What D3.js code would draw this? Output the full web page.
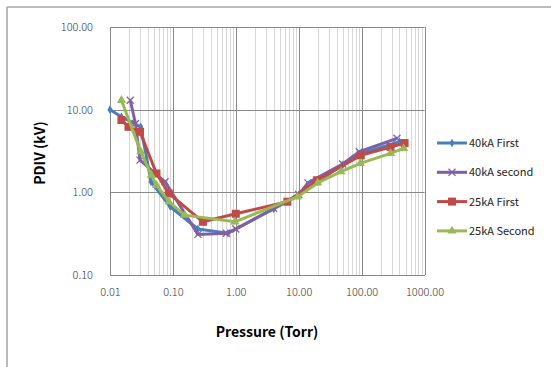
<!DOCTYPE html>
<html>
<head>
<meta charset="utf-8">
<script src="https://cdn.jsdelivr.net/npm/d3@7"></script>
<style>
  body { margin: 0; background: #fff; }
  svg { display: block; font-family: "Noto Sans CJK KR", "Noto Sans", sans-serif; }
</style>
</head>
<body>
<div id="chart"></div>
<script>
// pressure (Torr) / PDIV (kV)
var first40P  = [0.01, 0.0152, 0.0308, 0.045, 0.091, 0.25, 0.75, 4, 10, 20, 50, 100, 400];
var first40V  = [10, 8.2, 6.2, 1.34, 0.67, 0.36, 0.32, 0.63, 0.93, 1.35, 2.15, 2.95, 4.1];
var second40P = [0.021, 0.0254, 0.030, 0.075, 0.25, 0.71, 1.0, 4, 10, 14, 50, 92, 365];
var second40V = [13, 6.8, 2.45, 1.34, 0.31, 0.32, 0.36, 0.64, 0.94, 1.3, 2.2, 3.1, 4.5];
var first25P  = [0.0152, 0.0197, 0.030, 0.0548, 0.086, 0.30, 1.0, 6.6, 19.5, 97, 289, 482];
var first25V  = [7.5, 6.2, 5.4, 1.69, 0.97, 0.44, 0.55, 0.77, 1.4, 2.8, 3.54, 3.95];
var second25P = [0.0152, 0.0308, 0.0453, 0.0548, 0.086, 0.153, 0.97, 9.5, 20, 47, 95, 289, 466];
var second25V = [13, 3.1, 1.62, 1.22, 0.77, 0.53, 0.44, 0.88, 1.3, 1.78, 2.24, 2.96, 3.4];

var seriesNames  = ["40kA First", "40kA second", "25kA First", "25kA Second"];
var seriesColors = ["#4a7ebb", "#7f5fa6", "#be4b48", "#98b954"];
var seriesShapes = ["diamond", "cross", "square", "triangle"];
var xTicks = [0.01, 0.1, 1, 10, 100, 1000];
var yTicks = [0.1, 1, 10, 100];

var data = [
  d3.zip(first40P, first40V),
  d3.zip(second40P, second40V),
  d3.zip(first25P, first25V),
  d3.zip(second25P, second25V)
];

var W = 551, H = 367;
var svg = d3.select("#chart").append("svg").attr("width", W).attr("height", H);

// outer frame (only top and left visible)
svg.append("line").attr("x1", 7).attr("x2", W).attr("y1", 7).attr("y2", 7)
  .attr("stroke", "#a6a6a6").attr("stroke-width", 1.5);
svg.append("line").attr("x1", 7).attr("x2", 7).attr("y1", 7).attr("y2", H)
  .attr("stroke", "#a6a6a6").attr("stroke-width", 1.5);

var x = d3.scaleLog().domain([0.01, 1000]).range([110, 424.5]);
var y = d3.scaleLog().domain([0.1, 100]).range([275, 27]);

// minor grid
var minorX = [];
xTicks.slice(0, -1).forEach(function (t) {
  for (var k = 2; k <= 9; k++) minorX.push(t * k);
});
svg.append("g").selectAll("line").data(minorX).join("line")
  .attr("x1", d => Math.round(x(d)) + 0.5).attr("x2", d => Math.round(x(d)) + 0.5)
  .attr("y1", y(100)).attr("y2", y(0.1))
  .attr("stroke", "#d6d6d6").attr("stroke-width", 1);

// major grid
svg.append("g").selectAll("line").data(xTicks).join("line")
  .attr("x1", d => Math.round(x(d)) + 0.5).attr("x2", d => Math.round(x(d)) + 0.5)
  .attr("y1", y(100)).attr("y2", y(0.1))
  .attr("stroke", "#888").attr("stroke-width", 1);
svg.append("g").selectAll("line").data(yTicks).join("line")
  .attr("y1", d => Math.round(y(d)) + 0.5).attr("y2", d => Math.round(y(d)) + 0.5)
  .attr("x1", x(0.01)).attr("x2", x(1000))
  .attr("stroke", "#888").attr("stroke-width", 1);

// axes
var fmt = d3.format(".2f");
var xAxis = svg.append("g").attr("transform", "translate(0," + y(0.1) + ")")
  .call(d3.axisBottom(x).tickValues(xTicks).tickFormat(fmt).tickSize(0).tickPadding(13));
var yAxis = svg.append("g").attr("transform", "translate(" + x(0.01) + ",0)")
  .call(d3.axisLeft(y).tickValues(yTicks).tickFormat(fmt).tickSize(0).tickPadding(17));
[xAxis, yAxis].forEach(function (a) {
  a.select(".domain").attr("stroke", "#888");
  a.selectAll("text").attr("font-size", 11).attr("fill", "#3a3a3a")
    .attr("font-family", "\"Noto Sans CJK KR\", sans-serif").attr("font-weight", 300);
});

// axis titles
svg.append("text").attr("x", 267).attr("y", 337).attr("text-anchor", "middle")
  .attr("font-size", 14).attr("font-weight", "bold").text("Pressure (Torr)");
svg.append("text").attr("transform", "translate(45,153) rotate(-90)")
  .attr("text-anchor", "middle").attr("font-size", 14).attr("font-weight", "bold")
  .text("PDIV (kV)");

// series
var line = d3.line().x(d => x(d[0])).y(d => y(d[1]));

function marker(g, shape, color) {
  if (shape === "diamond") {
    g.append("path").attr("d", d3.symbol(d3.symbolDiamond, 22)()).attr("fill", color);
  } else if (shape === "cross") {
    g.append("path").attr("d", "M-3.5,-3.5L3.5,3.5M-3.5,3.5L3.5,-3.5")
      .attr("stroke", color).attr("stroke-width", 1.3).attr("fill", "none");
  } else if (shape === "square") {
    g.append("rect").attr("x", -4).attr("y", -4).attr("width", 8).attr("height", 8).attr("fill", color);
  } else {
    g.append("path").attr("d", d3.symbol(d3.symbolTriangle, 36)()).attr("fill", color);
  }
}

data.forEach(function (pts, i) {
  var g = svg.append("g");
  g.append("path").datum(pts).attr("d", line).attr("fill", "none")
    .attr("stroke", seriesColors[i]).attr("stroke-width", 3).attr("stroke-linejoin", "round");
  pts.forEach(function (p) {
    var m = g.append("g").attr("transform", "translate(" + x(p[0]) + "," + y(p[1]) + ")");
    marker(m, seriesShapes[i], seriesColors[i]);
  });
});

// legend
var legend = svg.append("g");
seriesNames.forEach(function (name, i) {
  var ly = 143 + i * 29.3;
  var g = legend.append("g");
  g.append("line").attr("x1", 437).attr("x2", 467).attr("y1", ly).attr("y2", ly)
    .attr("stroke", seriesColors[i]).attr("stroke-width", 3);
  var m = g.append("g").attr("transform", "translate(452," + ly + ")");
  marker(m, seriesShapes[i], seriesColors[i]);
  g.append("text").attr("x", 469).attr("y", ly + 4).attr("font-size", 11)
    .attr("fill", "#222").text(name);
});
</script>
</body>
</html>
